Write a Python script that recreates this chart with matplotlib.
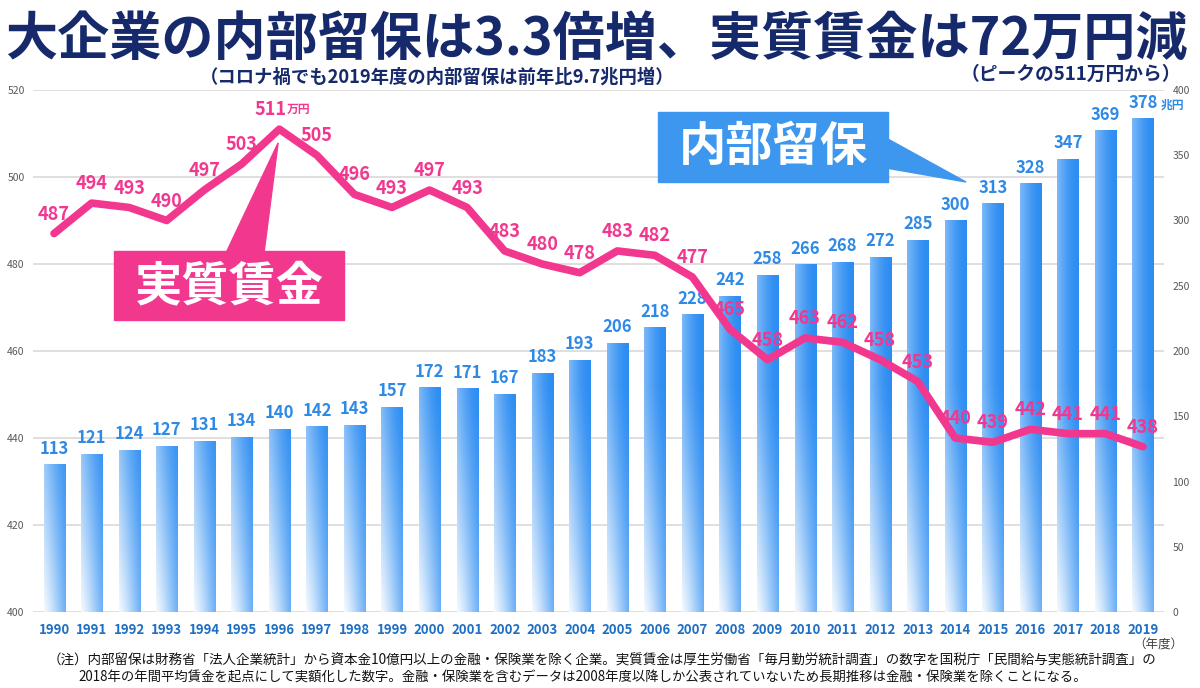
import numpy as np
import matplotlib
matplotlib.use("Agg")
import matplotlib.pyplot as plt
from matplotlib.patches import Rectangle, Polygon

plt.rcParams['font.family'] = ['Noto Sans CJK JP', 'DejaVu Sans']

years = list(range(1990, 2020))
reserves = [113, 121, 124, 127, 131, 134, 140, 142, 143, 157,
            172, 171, 167, 183, 193, 206, 218, 228, 242, 258,
            266, 268, 272, 285, 300, 313, 328, 347, 369, 378]
wages = [487, 494, 493, 490, 497, 503, 511, 505, 496, 493,
         497, 493, 483, 480, 478, 483, 482, 477, 465, 458,
         463, 462, 458, 453, 440, 439, 442, 441, 441, 438]
left_ticks = [400, 420, 440, 460, 480, 500, 520]
right_ticks = [0, 50, 100, 150, 200, 250, 300, 350, 400]

title = "大企業の内部留保は3.3倍増、実質賃金は72万円減"
subtitle = "（コロナ禍でも2019年度の内部留保は前年比9.7兆円増）"
subtitle2 = "（ピークの511万円から）"
note1 = "（注）内部留保は財務省「法人企業統計」から資本金10億円以上の金融・保険業を除く企業。実質賃金は厚生労働省「毎月勤労統計調査」の数字を国税庁「民間給与実態統計調査」の"
note2 = "2018年の年間平均賃金を起点にして実額化した数字。金融・保険業を含むデータは2008年度以降しか公表されていないため長期推移は金融・保険業を除くことになる。"

NAVY = '#15296b'
PINK = '#f2378f'
BLUE_TXT = '#2f8ae6'
BLUE_BOX = '#3d97ef'

W, H = 1200, 688
fig = plt.figure(figsize=(12, 6.88), dpi=100)
ax = fig.add_axes([33 / W, 1 - 612 / H, 1131 / W, 522 / H])   # bars, right scale
ax2 = ax.twinx()                                              # wage line, left scale

x = np.arange(len(years))
ax.set_xlim(-0.56, len(years) - 0.44)
ax.set_ylim(0, 400)
ax2.set_ylim(400, 520)

# gridlines of the left scale, drawn behind the bars
for v in left_ticks:
    ax.plot([-0.56, len(years) - 0.44], [v, v], transform=ax2.transData,
            color='#d9d9d9', lw=1.2, zorder=0)

# bars with a gradient fill
bars = ax.bar(x, reserves, width=0.56, color='none', edgecolor='none', zorder=2)
blue = np.array([0.17, 0.55, 0.95])
white = np.ones(3)
for b in bars:
    bx, bw, bh = b.get_x(), b.get_width(), b.get_height()
    xf = np.linspace(0, 1, 24)[None, :]
    yy = np.linspace(0, bh, 300)[:, None]
    horiz = 0.38 * (1 - xf) ** 1.6
    vert = np.clip(1 - yy / 175.0, 0, 1) ** 1.2
    w = horiz + (1 - horiz) * vert * (0.92 - 0.6 * xf)
    img = blue[None, None, :] * (1 - w[..., None]) + white[None, None, :] * w[..., None]
    ax.imshow(img, extent=[bx, bx + bw, 0, bh], origin='lower', aspect='auto',
              interpolation='bilinear', zorder=2)
ax.set_xlim(-0.56, len(years) - 0.44)
ax.set_ylim(0, 400)

for xi, v in zip(x, reserves):
    ax.annotate(str(v), (xi, v), xytext=(0, 5), textcoords='offset points',
                ha='center', va='bottom', fontsize=12, fontweight='bold',
                color=BLUE_TXT, zorder=4)
ax.annotate("兆円", (x[-1], reserves[-1]), xytext=(13, 5), textcoords='offset points',
            ha='left', va='bottom', fontsize=8.5, fontweight='bold', color=BLUE_TXT)

# wage line
ax2.plot(x, wages, color=PINK, lw=5.5, solid_capstyle='round', solid_joinstyle='round', zorder=5)
peak = int(np.argmax(wages))
for i, (xi, v) in enumerate(zip(x, wages)):
    dx = -6 if i == peak else 0
    ax2.annotate(str(v), (xi, v), xytext=(dx, 14), textcoords='offset points',
                 ha='center', va='center', fontsize=13, fontweight='bold',
                 color=PINK, zorder=6)
ax2.annotate("万円", (x[peak], wages[peak]), xytext=(5, 14), textcoords='offset points',
             ha='left', va='center', fontsize=8.5, fontweight='bold', color=PINK)

# axes styling
for a in (ax, ax2):
    for s in a.spines.values():
        s.set_visible(False)
ax.yaxis.tick_right()
ax.set_yticks(right_ticks)
ax2.yaxis.tick_left()
ax2.set_yticks(left_ticks)
ax.tick_params(axis='y', length=0, labelsize=7.5, labelcolor='#595959', pad=6)
ax2.tick_params(axis='y', length=0, labelsize=7.5, labelcolor='#595959', pad=6)
ax.set_xticks(x)
ax.set_xticklabels([str(y) for y in years], fontsize=9.5, fontweight='bold', color='#1f6fc4')
ax.tick_params(axis='x', length=0, pad=8)

# titles and notes
fig.text(0.497, 1 - 39 / H, title, ha='center', va='center', fontsize=37.5,
         fontweight='bold', color=NAVY)
fig.text(437 / W, 1 - 77 / H, subtitle, ha='center', va='center', fontsize=13.2,
         fontweight='bold', color=NAVY)
fig.text(1071 / W, 1 - 74 / H, subtitle2, ha='center', va='center', fontsize=13.5,
         fontweight='bold', color=NAVY)
fig.text(1158 / W, 1 - 645 / H, "（年度）", ha='center', va='center', fontsize=9,
         color='#404040')
fig.text(48 / W, 1 - 661 / H, note1, ha='left', va='center', fontsize=9.75, color='#111111')
fig.text(78 / W, 1 - 678 / H, note2, ha='left', va='center', fontsize=9.6, color='#111111')


def fp(px, py):
    return (px / W, 1 - py / H)


# callout: 内部留保
fig.add_artist(Polygon([fp(886, 138), fp(966, 182), fp(886, 168)], closed=True,
                       transform=fig.transFigure, color=BLUE_BOX, zorder=7))
fig.add_artist(Rectangle(fp(658, 182), 230 / W, 70 / H, transform=fig.transFigure,
                         color=BLUE_BOX, zorder=7))
fig.text(773 / W, 1 - 147 / H, "内部留保", ha='center', va='center', fontsize=34,
         fontweight='bold', color='white', zorder=8)

# callout: 実質賃金, pointing at the peak
tip = ax2.transData.transform((x[peak], wages[peak]))
tip = fig.transFigure.inverted().transform(tip)
fig.add_artist(Polygon([fp(226, 253), (tip[0] - 0.001, tip[1] - 0.02), fp(264, 253)], closed=True,
                       transform=fig.transFigure, color=PINK, zorder=7))
fig.add_artist(Rectangle(fp(114, 320), 230 / W, 69 / H, transform=fig.transFigure,
                         color=PINK, zorder=7))
fig.text(229 / W, 1 - 286 / H, "実質賃金", ha='center', va='center', fontsize=34,
         fontweight='bold', color='white', zorder=8)

fig.savefig("out.png", dpi=100)
